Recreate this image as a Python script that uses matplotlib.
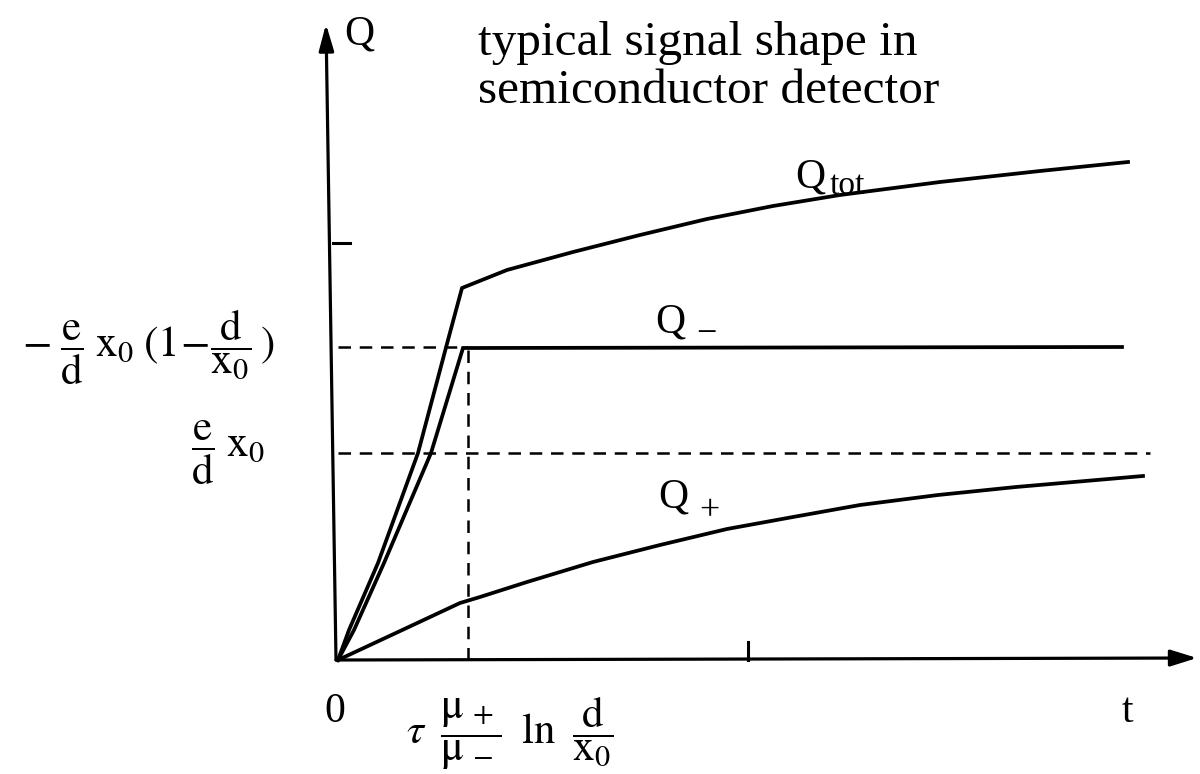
import numpy as np
import matplotlib
matplotlib.use("Agg")
import matplotlib.pyplot as plt

plt.rcParams['font.family'] = ['Liberation Serif', 'DejaVu Serif']
plt.rcParams['mathtext.fontset'] = 'stix'

# charge curves, t and Q in drawing units (origin at t=0, Q=0)
t_tot = [0, 11, 40, 80, 110, 124, 169, 235, 302, 369, 435, 502, 602, 702, 790]
q_tot = [0, 30, 97, 207, 320, 372, 390, 408, 425, 441, 454, 465, 478, 489, 498]

t_minus = [0, 16, 46, 93, 125, 784]
q_minus = [0, 30, 97, 207, 312, 313]

t_plus = [0, 60, 122, 142, 189, 255, 322, 389, 455, 522, 600, 678, 805]
q_plus = [0, 28, 57, 63, 78, 98, 115, 131, 143, 155, 165, 173, 184]

# reference levels and collection time
q_level_minus = 313
q_level_e = 207
t_collect = 130
q_tick = 417
t_tick = 410

fig = plt.figure(figsize=(12, 7.74), dpi=100)
ax = fig.add_axes([0, 0, 1, 1])
ax.set_xlim(-338, 862)
ax.set_ylim(-114, 660)
ax.axis('off')

lw_curve = 2.7
lw_axis = 2.3

# axes with arrow heads
ax.annotate('', xy=(859, 2), xytext=(-2, 0),
            arrowprops=dict(arrowstyle='-|>,head_length=1.6,head_width=0.5',
                            lw=lw_axis, color='black', shrinkA=0, shrinkB=0))
ax.annotate('', xy=(-12, 636), xytext=(-2, 0),
            arrowprops=dict(arrowstyle='-|>,head_length=1.6,head_width=0.45',
                            lw=lw_axis, color='black', shrinkA=0, shrinkB=0))

# small ticks
ax.plot([-5, 12], [q_tick, q_tick], color='black', lw=2.2)
ax.plot([t_tick, t_tick], [0, 18], color='black', lw=2.2)

# dashed guide lines
dash = dict(color='black', lw=1.8, linestyle=(0, (5, 3.5)))
ax.plot([0, t_collect], [q_level_minus, q_level_minus], **dash)
ax.plot([0, 812], [q_level_e, q_level_e], **dash)
ax.plot([t_collect, t_collect], [0, q_level_minus], **dash)

# curves
ax.plot(t_tot, q_tot, color='black', lw=lw_curve, solid_joinstyle='round')
ax.plot(t_minus, q_minus, color='black', lw=lw_curve, solid_joinstyle='miter')
ax.plot(t_plus, q_plus, color='black', lw=lw_curve, solid_joinstyle='round')

# labels
ax.text(6, 626, 'Q', fontsize=30, va='center', ha='left')
ax.text(140, 605, 'typical signal shape in', fontsize=35.5, va='baseline', ha='left')
ax.text(140, 557, 'semiconductor detector', fontsize=35.5, va='baseline', ha='left')

ax.text(457, 483, 'Q', fontsize=30, va='center', ha='left')
ax.text(492, 474, 'tot', fontsize=24, va='center', ha='left')
ax.text(317, 338, 'Q', fontsize=30, va='center', ha='left')
ax.text(358, 326, '\u2212', fontsize=26, va='center', ha='left')
ax.text(320, 163, 'Q', fontsize=30, va='center', ha='left')
ax.text(361, 148, '+', fontsize=26, va='center', ha='left')

ax.text(-63, 313,
        r'$-\;\dfrac{\mathrm{e}}{\mathrm{d}}\;\mathrm{x}_{0}\;(1\!-\!\dfrac{\mathrm{d}}{\mathrm{x}_{0}}\,)$',
        fontsize=31, va='center', ha='right')
ax.text(-73, 207, r'$\dfrac{\mathrm{e}}{\mathrm{d}}\;\mathrm{x}_{0}$',
        fontsize=31, va='center', ha='right')

ax.text(-3, -52, '0', fontsize=30, va='center', ha='center')
ax.text(172, -73,
        r'$\tau\;\;\dfrac{\mathrm{\mu}_{\,+}}{\mathrm{\mu}_{\,-}}\;\;\mathrm{ln}\;\;\dfrac{\mathrm{d}}{\mathrm{x}_{0}}$',
        fontsize=31, va='center', ha='center')
ax.text(789, -52, 't', fontsize=30, va='center', ha='center')

fig.savefig('out.png', dpi=100, facecolor='white')
